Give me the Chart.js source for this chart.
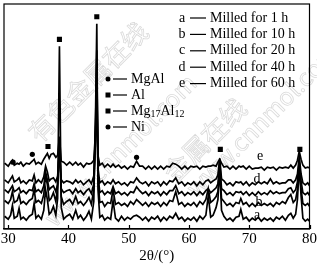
<!DOCTYPE html>
<html>
<head>
<meta charset="utf-8">
<script src="https://cdn.jsdelivr.net/npm/chart.js@4.4.1/dist/chart.umd.min.js"></script>
<style>
html,body{margin:0;padding:0;background:#fff;}
</style>
</head>
<body>
<canvas id="xrd" width="317" height="266"></canvas>
<script>
// 2theta sample points (deg)
const angles = [
  29.4, 30.0, 30.4, 30.7, 31.0, 31.5, 31.8, 32.1, 32.5, 33.0,
  33.5, 34.0, 34.3, 34.6, 35.0, 35.5, 35.9, 36.2, 36.5, 36.8,
  37.1, 37.5, 37.9, 38.2, 38.5, 38.8, 39.2, 39.7, 40.2, 40.7,
  41.2, 41.6, 42.0, 42.5, 43.0, 43.4, 43.8, 44.2, 44.5, 44.7,
  44.9, 45.2, 45.6, 46.0, 46.5, 47.0, 47.4, 47.8, 48.3, 48.8,
  49.3, 49.8, 50.3, 50.8, 51.3, 51.8, 52.3, 52.8, 53.3, 53.8,
  54.3, 54.8, 55.3, 55.8, 56.3, 56.8, 57.3, 57.8, 58.3, 58.8,
  59.3, 59.8, 60.3, 60.8, 61.3, 61.8, 62.3, 62.8, 63.2, 63.6,
  64.0, 64.5, 64.8, 65.1, 65.4, 65.8, 66.3, 66.8, 67.3, 67.8,
  68.3, 68.6, 69.0, 69.5, 70.0, 70.5, 71.0, 71.5, 72.0, 72.5,
  73.0, 73.5, 74.0, 74.5, 75.0, 75.5, 76.0, 76.5, 76.9, 77.3,
  77.7, 78.0, 78.3, 78.6, 78.9, 79.3, 79.7, 80.0
];

// intensities (arb. units, traces stacked)
const milled1h = [
  13, 10, 14, 24, 11, 13, 21, 10, 12, 9,
  13, 15, 26, 11, 14, 10, 19, 40, 30, 15,
  17, 23, 14, 31, 186, 22, 10, 13, 15, 10,
  19, 11, 14, 9, 13, 18, 10, 28, 120, 209,
  40, 12, 14, 9, 12, 10, 29, 11, 8, 13,
  9, 12, 10, 13, 14, 12, 9, 12, 8, 12,
  10, 13, 8, 12, 9, 13, 11, 16, 10, 12,
  8, 11, 9, 12, 8, 13, 10, 14, 34, 12,
  14, 22, 30, 63, 19, 13, 9, 11, 8, 12,
  13, 20, 10, 12, 8, 11, 9, 12, 8, 11,
  9, 11, 8, 12, 10, 13, 9, 14, 16, 11,
  15, 30, 65, 34, 11, 8, 10, 8
];
const milled10h = [
  29, 26, 30, 38, 27, 29, 35, 26, 28, 25,
  29, 31, 40, 27, 29, 26, 35, 55, 45, 29,
  31, 37, 28, 43, 89, 33, 25, 28, 30, 25,
  33, 26, 28, 24, 28, 32, 25, 40, 110, 182,
  50, 27, 28, 23, 27, 26, 40, 25, 27, 24,
  26, 23, 28, 25, 30, 27, 24, 27, 23, 27,
  25, 27, 23, 27, 24, 29, 28, 38, 25, 27,
  23, 26, 24, 27, 23, 28, 25, 30, 41, 27,
  29, 33, 38, 60, 31, 28, 24, 26, 23, 27,
  26, 31, 25, 27, 23, 26, 23, 27, 24, 26,
  24, 26, 23, 27, 25, 28, 26, 32, 35, 27,
  30, 40, 62, 41, 26, 24, 26, 23
];
const milled20h = [
  40, 37, 41, 44, 38, 40, 42, 37, 39, 36,
  40, 39, 46, 38, 40, 37, 44, 58, 50, 40,
  42, 44, 38, 46, 84, 41, 37, 39, 40, 36,
  41, 37, 39, 35, 39, 41, 36, 46, 100, 169,
  55, 37, 39, 35, 38, 36, 43, 36, 38, 35,
  37, 34, 38, 37, 43, 39, 36, 38, 34, 38,
  36, 38, 34, 38, 35, 39, 39, 44, 36, 38,
  34, 37, 35, 38, 34, 38, 35, 39, 41, 37,
  39, 42, 46, 70, 41, 39, 35, 37, 34, 38,
  37, 38, 35, 38, 34, 37, 34, 38, 35, 37,
  35, 39, 36, 38, 36, 37, 37, 41, 42, 37,
  40, 48, 70, 49, 37, 35, 37, 34
];
const milled40h = [
  50, 47, 51, 54, 48, 50, 52, 47, 49, 46,
  50, 49, 55, 47, 50, 47, 53, 64, 58, 49,
  51, 52, 48, 54, 79, 50, 47, 49, 48, 46,
  50, 47, 49, 45, 48, 50, 46, 54, 90, 149,
  62, 47, 49, 45, 48, 46, 50, 46, 48, 45,
  47, 44, 48, 47, 52, 48, 46, 48, 44, 48,
  46, 48, 44, 48, 45, 49, 48, 52, 46, 48,
  44, 47, 45, 48, 44, 48, 45, 49, 50, 47,
  49, 51, 55, 72, 51, 49, 45, 47, 44, 48,
  47, 48, 45, 48, 44, 47, 45, 48, 46, 48,
  46, 51, 46, 48, 46, 47, 47, 50, 50, 47,
  50, 56, 74, 56, 47, 45, 47, 44
];
const milled60h = [
  67, 64, 68, 70, 65, 67, 66, 68, 64, 67,
  66, 69, 71, 66, 68, 66, 71, 74, 77, 72,
  76, 77, 73, 75, 94, 69, 68, 65, 68, 65,
  68, 65, 67, 63, 67, 66, 67, 70, 100, 129,
  75, 65, 67, 63, 66, 63, 66, 63, 65, 62,
  64, 61, 64, 63, 69, 64, 64, 61, 64, 61,
  64, 61, 64, 61, 64, 63, 67, 66, 64, 61,
  64, 61, 64, 63, 64, 61, 64, 63, 64, 64,
  65, 64, 68, 71, 67, 63, 64, 61, 64, 61,
  64, 63, 64, 61, 64, 61, 62, 62, 63, 60,
  63, 62, 63, 60, 63, 62, 63, 62, 65, 62,
  65, 70, 79, 71, 65, 62, 63, 62
];

const traceKeys = ['a', 'b', 'c', 'd', 'e'];
const traceNames = ['Milled for 1 h', 'Milled for 10 h', 'Milled for 20 h', 'Milled for 40 h', 'Milled for 60 h'];
const xTicks = [30, 40, 50, 60, 70, 80];

// phase markers above the peaks
const phaseNames = ['MgAl', 'Al', 'Mg17Al12', 'Ni'];
const phaseShapes = ['circle', 'rect', 'rect', 'circle'];
const markAngles = [30.8, 34.0, 36.6, 38.5, 44.7, 51.3, 65.2, 78.4];
const markLevels = [68, 76, 84, 193, 216, 73, 81, 81];
const markPhase = [0, 0, 2, 1, 1, 3, 1, 1];

const serif = '"Liberation Serif", "Times New Roman", serif';
const traces = [milled1h, milled10h, milled20h, milled40h, milled60h];

let datasets = traces.map((vals, i) => ({
    label: traceKeys[i],
    data: angles.map((x, j) => ({x: x, y: vals[j]})),
    borderColor: '#000',
    borderWidth: 1.7,
    pointRadius: 0,
    tension: 0,
    fill: false
}));
datasets.push({
    label: 'phases',
    data: markAngles.map((x, j) => ({x: x, y: markLevels[j]})),
    showLine: false,
    pointStyle: markPhase.map(p => phaseShapes[p]),
    pointRadius: markPhase.map(p => phaseShapes[p] == 'rect' ? 3.6 : 2.6),
    backgroundColor: '#000',
    borderColor: '#000',
    borderWidth: 0
});

function drawMg17Al12(ctx, x, y) {
    ctx.font = '14px ' + serif;
    ctx.fillText('Mg', x, y); x += ctx.measureText('Mg').width;
    ctx.font = '10px ' + serif;
    ctx.fillText('17', x, y + 3); x += ctx.measureText('17').width;
    ctx.font = '14px ' + serif;
    ctx.fillText('Al', x, y); x += ctx.measureText('Al').width;
    ctx.font = '10px ' + serif;
    ctx.fillText('12', x, y + 3);
}

const decor = {
    id: 'decor',
    beforeDatasetsDraw(chart) {
        // faint site watermark
        const ctx = chart.ctx;
        ctx.save();
        ctx.strokeStyle = '#dadada';
        ctx.lineWidth = 0.8;
        ctx.textAlign = 'center';
        ctx.textBaseline = 'middle';
        let marks = [
            ['有色金属在线', 88, 82, 26],
            ['www.cnnmol.com', 120, 150, 24],
            ['金属在线', 205, 140, 26],
            ['www.cnnmol.com', 262, 120, 24]
        ];
        for (let m of marks) {
            ctx.save();
            ctx.translate(m[1], m[2]);
            ctx.rotate(-Math.PI / 4);
            ctx.font = m[3] + 'px "Noto Sans CJK SC", sans-serif';
            ctx.strokeText(m[0], 0, 0);
            ctx.restore();
        }
        ctx.restore();
    },
    afterDraw(chart) {
        const {ctx, chartArea: a, scales: {x}} = chart;
        ctx.save();
        ctx.strokeStyle = '#000';
        ctx.fillStyle = '#000';
        ctx.lineWidth = 1.2;
        ctx.strokeRect(a.left, a.top, a.right - a.left, a.bottom - a.top);
        for (let v of xTicks) {
            let px = Math.round(x.getPixelForValue(v)) + 0.5;
            ctx.beginPath();
            ctx.moveTo(px, a.bottom);
            ctx.lineTo(px, a.bottom - 4);
            ctx.stroke();
        }

        // phase legend
        ctx.textBaseline = 'middle';
        ctx.textAlign = 'left';
        ctx.lineWidth = 1.2;
        phaseNames.forEach((n, i) => {
            let yy = 79 + i * 16;
            if (phaseShapes[i] == 'circle') {
                ctx.beginPath();
                ctx.arc(108, yy, 2.5, 0, Math.PI * 2);
                ctx.fill();
            } else {
                ctx.fillRect(105.5, yy - 2.5, 5, 5);
            }
            ctx.beginPath();
            ctx.moveTo(113, yy);
            ctx.lineTo(127, yy);
            ctx.stroke();
            if (n == 'Mg17Al12') {
                drawMg17Al12(ctx, 131, yy);
            } else {
                ctx.font = '14px ' + serif;
                ctx.fillText(n, 131, yy);
            }
        });

        // sample legend
        ctx.font = '14px ' + serif;
        traceKeys.forEach((k, i) => {
            let yy = 18 + i * 16.4;
            ctx.textAlign = 'center';
            ctx.fillText(k, 182, yy);
            ctx.beginPath();
            ctx.moveTo(190, yy);
            ctx.lineTo(206, yy);
            ctx.stroke();
            ctx.textAlign = 'left';
            ctx.fillText(traceNames[i], 210, yy);
        });

        // trace letters
        ctx.textAlign = 'center';
        let tl = [['e', 260, 156], ['d', 257, 179], ['b', 259, 202], ['a', 257, 215]];
        for (let t of tl) ctx.fillText(t[0], t[1], t[2]);
        ctx.restore();
    }
};

new Chart(document.getElementById('xrd'), {
    type: 'line',
    data: { datasets: datasets },
    options: {
        responsive: false,
        animation: false,
        layout: { padding: { left: 4, right: 7, top: 1, bottom: 0 } },
        scales: {
            x: {
                type: 'linear',
                min: 29.3,
                max: 80,
                afterBuildTicks: s => { s.ticks = xTicks.map(v => ({ value: v })); },
                grid: { display: false, drawTicks: true, tickLength: 3 },
                border: { display: true, color: '#000', width: 1.2 },
                ticks: { color: '#000', padding: 0, maxRotation: 0, font: { family: serif, size: 15, lineHeight: 1 } },
                title: { display: true, text: '2θ/(°)', color: '#000', padding: { top: 2, bottom: 2 }, font: { family: serif, size: 15, lineHeight: 1 } }
            },
            y: { display: false, min: 0, max: 229 }
        },
        plugins: { legend: { display: false }, tooltip: { enabled: false } }
    },
    plugins: [decor]
});
</script>
</body>
</html>
